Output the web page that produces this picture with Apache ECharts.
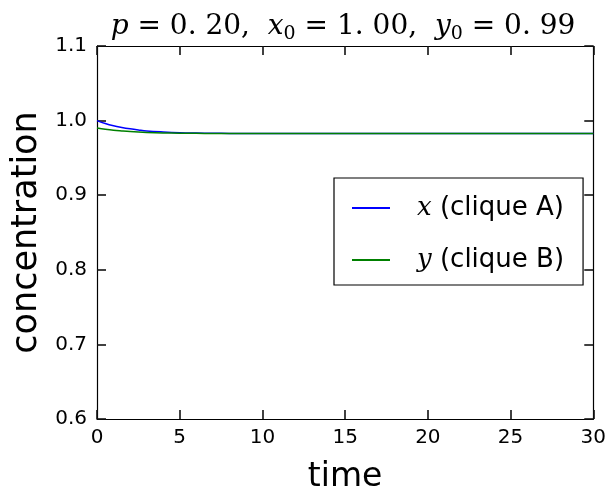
<!DOCTYPE html>
<html>
<head>
<meta charset="utf-8">
<script src="https://cdn.jsdelivr.net/npm/echarts@6/dist/echarts.min.js"></script>
<style>
  html, body { margin: 0; padding: 0; background: #fff; }
  #chart { width: 609px; height: 499px; }
</style>
</head>
<body>
<div id="chart"></div>
<script>
// Time samples and the two concentrations
const times = [0, 0.5, 1, 1.5, 2, 2.5, 3, 4, 5, 6, 7, 8, 10, 15, 20, 25, 30];
const xCliqueA = [1.000, 0.9960, 0.9930, 0.9908, 0.9890, 0.9875, 0.9862, 0.9848, 0.9838, 0.9833, 0.9830, 0.9828, 0.9827, 0.9827, 0.9827, 0.9827, 0.9827];
const yCliqueB = [0.990, 0.9885, 0.9872, 0.9862, 0.9853, 0.9846, 0.9841, 0.9835, 0.9831, 0.9829, 0.9828, 0.9827, 0.9827, 0.9827, 0.9827, 0.9827, 0.9827];
const xTicks = [0, 5, 10, 15, 20, 25, 30];
const yTicks = [0.6, 0.7, 0.8, 0.9, 1.0, 1.1];

const seriesNames = ['x (clique A)', 'y (clique B)'];
const pairs = arr => times.map((t, i) => [t, arr[i]]);

const chart = echarts.init(document.getElementById('chart'), null, { renderer: 'canvas' });

const mathItalic = { fontFamily: 'DejaVu Serif', fontStyle: 'italic', fontWeight: 'normal', fontSize: 28, color: '#000' };
const mathNum = { fontFamily: 'DejaVu Serif', fontWeight: 'normal', fontSize: 28, color: '#000' };
const mathSub = { fontFamily: 'DejaVu Serif', fontWeight: 'normal', fontSize: 19, color: '#000', padding: [16, 0, 0, 0] };

// Frame axis: black line with short inward ticks on every side
function boxAxis() {
  return {
    axisLine: { show: true, onZero: false, lineStyle: { color: '#000', width: 1.2 } },
    axisTick: { show: true, inside: true, length: 9, lineStyle: { color: '#111', width: 1.6 } },
    splitLine: { show: false }
  };
}

chart.setOption({
  animation: false,
  backgroundColor: '#fff',
  title: {
    text: '{i|p}{n| = 0. 20,  }{i|x}{s|0}{n| = 1. 00,  }{i|y}{s|0}{n| = 0. 99}',
    left: 338,
    textAlign: 'center',
    top: 4,
    textStyle: { fontWeight: 'normal', rich: { i: mathItalic, n: mathNum, s: mathSub } }
  },
  grid: { left: 97, right: 14, top: 46, bottom: 79, containLabel: false },
  legend: {
    orient: 'vertical',
    left: 334,
    top: 178,
    padding: [17, 19, 12, 18],
    itemGap: 26,
    itemWidth: 38,
    itemHeight: 2,
    icon: 'rect',
    borderColor: '#000',
    borderWidth: 1.2,
    backgroundColor: '#fff',
    data: seriesNames,
    formatter: name => '{sp|}{i|' + name.charAt(0) + '}{t|' + name.slice(1) + '}',
    textStyle: {
      fontSize: 26,
      rich: {
        sp: { width: 22 },
        i: { fontFamily: 'DejaVu Serif', fontStyle: 'italic', fontSize: 26, color: '#000' },
        t: { fontFamily: 'DejaVu Sans', fontSize: 26, color: '#000' }
      }
    }
  },
  xAxis: [
    Object.assign({
      type: 'value', min: 0, max: 30, interval: 5,
      name: 'time', nameLocation: 'middle', nameGap: 42,
      nameTextStyle: { fontFamily: 'DejaVu Sans', fontSize: 33, color: '#000' },
      axisLabel: { fontFamily: 'DejaVu Sans', fontSize: 20, color: '#000', margin: 9 }
    }, boxAxis()),
    Object.assign({
      type: 'value', min: 0, max: 30, interval: 5, position: 'top',
      axisLabel: { show: false }
    }, boxAxis())
  ],
  yAxis: [
    Object.assign({
      type: 'value', min: 0.6, max: 1.1, interval: 0.1,
      name: 'concentration', nameLocation: 'middle', nameGap: 49,
      nameTextStyle: { fontFamily: 'DejaVu Sans', fontSize: 35, color: '#000' },
      axisLabel: { fontFamily: 'DejaVu Sans', fontSize: 20, color: '#000', margin: 10,
        formatter: v => v.toFixed(1) }
    }, boxAxis()),
    Object.assign({
      type: 'value', min: 0.6, max: 1.1, interval: 0.1, position: 'right',
      axisLabel: { show: false }
    }, boxAxis())
  ],
  series: [
    {
      name: seriesNames[0], type: 'line', data: pairs(xCliqueA),
      smooth: 0.4, showSymbol: false, symbol: 'none',
      itemStyle: { color: '#0000ff' },
      lineStyle: { color: '#0000ff', width: 1.5 }
    },
    {
      name: seriesNames[1], type: 'line', data: pairs(yCliqueB),
      smooth: 0.4, showSymbol: false, symbol: 'none',
      itemStyle: { color: '#008000' },
      lineStyle: { color: '#008000', width: 1.5 }
    }
  ]
});
</script>
</body>
</html>
